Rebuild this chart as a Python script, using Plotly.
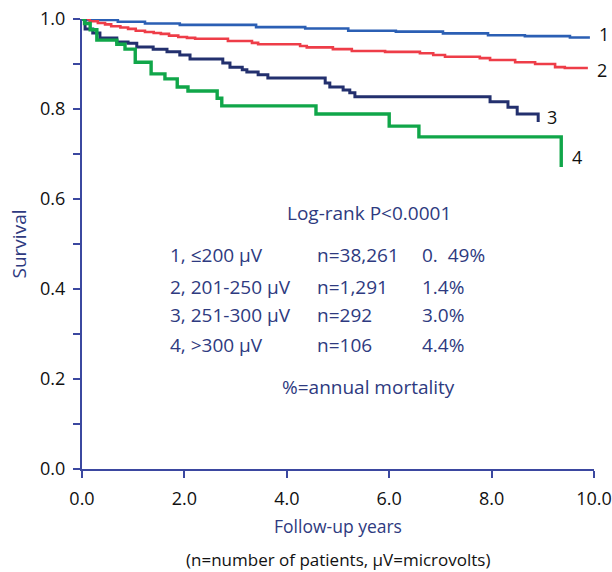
import plotly.graph_objects as go

# Kaplan-Meier step data (time in years, survival)
blue_t = [0, 0.06, 0.70, 1.23, 1.91, 3.40, 4.36, 5.20, 6.13, 7.05, 7.93, 8.65, 9.53, 9.92]
blue_s = [1.0, 0.998, 0.994, 0.990, 0.987, 0.982, 0.979, 0.974, 0.972, 0.968, 0.964, 0.962, 0.959, 0.959]

red_t = [0, 0.15, 0.31, 0.45, 0.57, 0.75, 0.90, 1.05, 1.23, 1.40, 1.54, 1.70, 1.88, 2.05, 2.21,
         2.85, 3.32, 3.44, 4.26, 4.39, 4.90, 5.27, 5.92, 6.60, 6.86, 7.09, 7.77, 7.97, 8.46, 8.85,
         9.24, 9.43, 9.88]
red_s = [1.0, 0.995, 0.991, 0.988, 0.984, 0.981, 0.978, 0.974, 0.971, 0.969, 0.967, 0.963, 0.960,
         0.958, 0.956, 0.951, 0.947, 0.944, 0.940, 0.937, 0.933, 0.929, 0.927, 0.924, 0.920, 0.916,
         0.913, 0.909, 0.904, 0.900, 0.893, 0.891, 0.891]

navy_t = [0, 0.06, 0.21, 0.35, 0.68, 0.90, 1.07, 1.39, 1.66, 1.91, 2.11, 2.75, 2.89, 3.13, 3.22,
          3.44, 3.63, 4.75, 4.84, 5.10, 5.23, 5.33, 7.97, 8.32, 8.50, 8.91]
navy_s = [1.0, 0.978, 0.969, 0.958, 0.949, 0.946, 0.938, 0.933, 0.927, 0.920, 0.911, 0.902, 0.893,
          0.887, 0.882, 0.876, 0.869, 0.858, 0.849, 0.842, 0.836, 0.827, 0.816, 0.804, 0.789, 0.771]

green_t = [0, 0.05, 0.16, 0.29, 0.68, 0.84, 1.04, 1.35, 1.62, 1.86, 2.07, 2.64, 2.73, 4.57, 6.00,
           6.58, 9.36]
green_s = [1.0, 0.990, 0.976, 0.953, 0.944, 0.933, 0.904, 0.878, 0.867, 0.849, 0.840, 0.824, 0.807,
           0.789, 0.762, 0.738, 0.671]

curve_labels = ["1", "2", "3", "4"]
x_ticks = [0, 2, 4, 6, 8, 10]
y_ticks = [0, 0.2, 0.4, 0.6, 0.8, 1.0]

legend_rows = [
    ("1, \u2264200 \u03bcV", "n=38,261", "0.  49%"),
    ("2, 201-250 \u03bcV", "n=1,291", "1.4%"),
    ("3, 251-300 \u03bcV", "n=292", "3.0%"),
    ("4, >300 \u03bcV", "n=106", "4.4%"),
]

FONT = "Open Sans"
TXT_BLUE = "#2e3a80"
AXIS_BLUE = "#3b48a0"

fig = go.Figure()
series = [
    (blue_t, blue_s, "#2b5fb4", 2.6),
    (red_t, red_s, "#ee3d48", 2.6),
    (navy_t, navy_s, "#23306e", 3.0),
    (green_t, green_s, "#10a649", 3.4),
]
for t, s, c, w in series:
    fig.add_trace(go.Scatter(x=t, y=s, mode="lines", line=dict(color=c, width=w, shape="hv"),
                             cliponaxis=False, showlegend=False, hoverinfo="skip"))

# curve end labels
label_pos = [(blue_t[-1], blue_s[-1], 14, 3), (red_t[-1], red_s[-1], 14, -2),
             (navy_t[-1], navy_s[-1], 14, 5), (green_t[-1], green_s[-1], 16, 10)]
for lab, (x, y, xs, ys) in zip(curve_labels, label_pos):
    fig.add_annotation(x=x, y=y, text=lab, showarrow=False, xanchor="center", yanchor="middle",
                       xshift=xs, yshift=ys, font=dict(family=FONT, size=18, color="#111111"))

# text block
def ann(x, y, text, anchor="left", size=19, color=TXT_BLUE):
    fig.add_annotation(x=x, y=y, text=text, showarrow=False, xanchor=anchor, yanchor="middle",
                       font=dict(family=FONT, size=size, color=color))

ann(3.96, 0.569, "Log-rank P<0.0001")
row_y = [0.476, 0.404, 0.342, 0.276]
for (a, b, c), y in zip(legend_rows, row_y):
    ann(1.68, y, a)
    ann(4.55, y, b)
    ann(6.60, y, c)
ann(3.87, 0.182, "%=annual mortality")

fig.add_annotation(xref="paper", yref="paper", x=0.5, y=0, yshift=-90, showarrow=False,
                   text="(n=number of patients, \u03bcV=microvolts)", xanchor="center", yanchor="middle",
                   font=dict(family=FONT, size=17, color="#111111"))

fig.update_xaxes(range=[0, 10], tickvals=x_ticks, tickformat=".1f", showline=True, linecolor=AXIS_BLUE,
                 linewidth=2, ticks="outside", tickcolor=AXIS_BLUE, tickwidth=2, ticklen=7,
                 ticklabelstandoff=5, automargin=False, ticklabeloverflow="allow",
                 showgrid=False, zeroline=False,
                 tickfont=dict(family=FONT, size=18, color="#111111"),
                 title=dict(text="Follow-up years", font=dict(family=FONT, size=17.5, color=TXT_BLUE),
                            standoff=12))
fig.update_yaxes(range=[0, 1], tickvals=y_ticks, tickformat=".1f", showline=True, linecolor=AXIS_BLUE,
                 linewidth=2, ticks="outside", tickcolor=AXIS_BLUE, tickwidth=2, ticklen=7,
                 ticklabelstandoff=4, automargin=False, ticklabeloverflow="allow",
                 minor=dict(dtick=0.1, tick0=0, ticks="outside", ticklen=7, tickcolor=AXIS_BLUE, tickwidth=2),
                 showgrid=False, zeroline=False,
                 tickfont=dict(family=FONT, size=18, color="#111111"),
                 title=dict(text="Survival", font=dict(family=FONT, size=19, color=TXT_BLUE), standoff=8))

fig.update_layout(width=612, height=572, margin=dict(l=82, r=18, t=19, b=103),
                  paper_bgcolor="white", plot_bgcolor="white")

# remove the browser's default 8px body margin so the figure fills the window exactly
fig.write_html("out.html", config={"displayModeBar": False},
               post_script="document.body.style.margin='0';"
                           "document.documentElement.style.overflow='hidden';")
